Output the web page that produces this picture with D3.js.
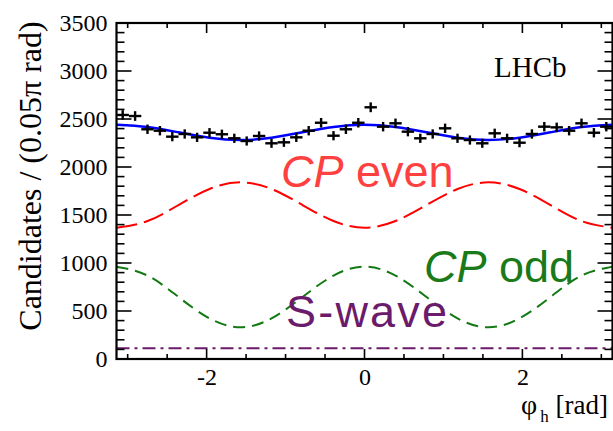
<!DOCTYPE html>
<html>
<head>
<meta charset="utf-8">
<script src="https://cdn.jsdelivr.net/npm/d3@7"></script>
<style>
  html, body { margin: 0; padding: 0; background: #fff; }
  svg { display: block; }
</style>
</head>
<body>
<svg id="chart" width="613" height="431"></svg>
<script>
// Measured distribution: 40 bins of 0.05π rad over [-π, π]
const binCounts = [
  2542, 2531, 2393, 2378, 2316, 2344, 2309, 2357, 2341, 2299,
  2271, 2323, 2247, 2257, 2309, 2378, 2461, 2326, 2393, 2461,
  2622, 2420, 2455, 2368, 2299, 2344, 2403, 2299, 2281, 2247,
  2351, 2299, 2253, 2344, 2420, 2413, 2378, 2455, 2357, 2420
];

// Fit components sampled every π/8 from -π to π
const curvePhiSteps = d3.range(-8, 9);           // multiples of π/8
const cpEven = [1368, 1437, 1604, 1771, 1840, 1771, 1604, 1437, 1368,
                1437, 1604, 1771, 1840, 1771, 1604, 1437, 1368];
const cpOdd  = [962, 869, 646, 423, 330, 423, 646, 869, 962,
                869, 646, 423, 330, 423, 646, 869, 962];
const sWave  = [111, 111, 111, 111, 111, 111, 111, 111, 111,
                111, 111, 111, 111, 111, 111, 111, 111];

const yTicks = [0, 500, 1000, 1500, 2000, 2500, 3000, 3500];
const xTicks = [-2, 0, 2];

const svg = d3.select("#chart");
const x = d3.scaleLinear().domain([-Math.PI, Math.PI]).range([116.5, 612.5]);
const y = d3.scaleLinear().domain([0, 3500]).range([359, 23]);

const serif = "'Liberation Serif', 'Times New Roman', serif";
const sans = "'Liberation Sans', Arial, Helvetica, sans-serif";

const plot = svg.append("g");
svg.append("defs").append("clipPath").attr("id", "frame")
  .append("rect").attr("x", 116.5).attr("y", 23).attr("width", 496).attr("height", 336);

// Component curves
const phiOf = i => curvePhiSteps[i] * Math.PI / 8;
const line = d3.line().x((d, i) => x(phiOf(i))).y(d => y(d)).curve(d3.curveNatural);
const total = cpEven.map((v, i) => v + cpOdd[i] + sWave[i]);

const curves = [
  { data: sWave, color: "#6a1b6a", width: 2, dash: "13 5 3 5" },
  { data: cpOdd, color: "#137a13", width: 2, dash: "12 7" },
  { data: cpEven, color: "#ff0000", width: 2, dash: "21 7" },
];
const cg = plot.append("g").attr("clip-path", "url(#frame)");
curves.forEach(c => {
  cg.append("path").datum(c.data).attr("d", line)
    .attr("fill", "none").attr("stroke", c.color)
    .attr("stroke-width", c.width).attr("stroke-dasharray", c.dash);
});

// Data points with bin width and Poisson errors
const binW = Math.PI * 0.05;
const pts = plot.append("g").attr("stroke", "#000").attr("stroke-width", 2.4);
binCounts.forEach((n, k) => {
  const lo = -Math.PI + k * binW, hi = lo + binW, c = lo + binW / 2;
  const e = Math.sqrt(n);
  pts.append("line").attr("x1", x(lo)).attr("x2", x(hi)).attr("y1", y(n)).attr("y2", y(n));
  pts.append("line").attr("x1", x(c)).attr("x2", x(c)).attr("y1", y(n - e)).attr("y2", y(n + e));
});

// Total fit
cg.append("path").datum(total).attr("d", line)
  .attr("fill", "none").attr("stroke", "#0000ff").attr("stroke-width", 2.5);

// Axes: ticks on all four sides
const ax = svg.append("g").attr("stroke", "#000");
const yMinor = d3.range(0, 3501, 100);
yMinor.forEach(v => {
  const major = v % 500 === 0;
  const len = major ? 15 : 8;
  ax.append("line").attr("x1", x.range()[0]).attr("x2", x.range()[0] + len)
    .attr("y1", y(v)).attr("y2", y(v)).attr("stroke-width", 1.6);
  ax.append("line").attr("x1", x.range()[1]).attr("x2", x.range()[1] - len)
    .attr("y1", y(v)).attr("y2", y(v)).attr("stroke-width", 1.6);
});
const xMinor = d3.range(-3, 3.01, 0.5);
xMinor.forEach(v => {
  const major = Math.abs(v % 2) < 1e-9;
  const len = major ? 10 : 5;
  ax.append("line").attr("x1", x(v)).attr("x2", x(v))
    .attr("y1", y.range()[0]).attr("y2", y.range()[0] - len).attr("stroke-width", 1.6);
  ax.append("line").attr("x1", x(v)).attr("x2", x(v))
    .attr("y1", y.range()[1]).attr("y2", y.range()[1] + len).attr("stroke-width", 1.6);
});
ax.append("rect").attr("x", 116.5).attr("y", 23).attr("width", 496).attr("height", 336)
  .attr("fill", "none").attr("stroke-width", 2.2);

// Tick labels
const yAxis = d3.axisLeft(y).tickValues(yTicks).tickSize(0).tickPadding(9)
  .tickFormat(d3.format("d"));
const ya = svg.append("g").attr("transform", `translate(${x.range()[0]},0)`).call(yAxis);
ya.select(".domain").remove();
ya.selectAll("text").attr("font-family", serif).attr("font-size", 24).attr("fill", "#000");

const xAxis = d3.axisBottom(x).tickValues(xTicks).tickSize(0).tickPadding(9)
  .tickFormat(d => d < 0 ? "-" + Math.abs(d) : String(d));
const xa = svg.append("g").attr("transform", `translate(0,${y.range()[0]})`).call(xAxis);
xa.select(".domain").remove();
xa.selectAll("text").attr("font-family", serif).attr("font-size", 24).attr("fill", "#000");

// Axis titles
svg.append("text").attr("transform", "translate(41,176) rotate(-90)")
  .attr("text-anchor", "middle").attr("font-family", serif).attr("font-size", 32)
  .text("Candidates / (0.05π rad)");
const xt = svg.append("text").attr("x", 608).attr("y", 414).attr("text-anchor", "end")
  .attr("font-family", serif).attr("font-size", 27);
xt.append("tspan").attr("font-size", 28).text("φ");
xt.append("tspan").attr("font-size", 17).attr("dy", 8).attr("dx", 3).text("h");
xt.append("tspan").attr("dy", -8).text("  [rad]");

// Labels
svg.append("text").attr("x", 494).attr("y", 77).attr("font-family", serif)
  .attr("font-size", 29).text("LHCb");

function compLabel(xp, yp, pre, rest, color, spacing) {
  const t = svg.append("text").attr("x", xp).attr("y", yp)
    .attr("font-family", sans).attr("font-size", 45).attr("fill", color)
    .attr("letter-spacing", spacing);
  t.append("tspan").attr("font-style", "italic").text(pre);
  t.append("tspan").text(rest);
}
compLabel(281, 187, "CP", " even", "#ff4040", 0);
compLabel(424, 282, "CP", " odd", "#1a7a1a", 0);
compLabel(286, 327, "", "S-wave", "#6b1b6b", 2.2);
</script>
</body>
</html>
